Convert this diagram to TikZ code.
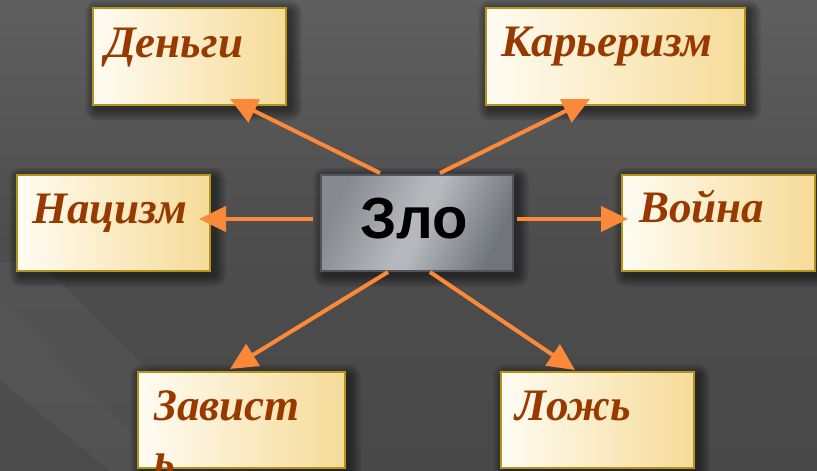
\documentclass[tikz,border=0pt]{standalone}
\usepackage{fontspec}
\setmainfont{Liberation Serif}
\newfontfamily\zlofont{Liberation Sans}
\usetikzlibrary{arrows.meta}
\definecolor{bgtop}{HTML}{5F5F5F}
\definecolor{bgmid}{HTML}{4D4D4D}
\definecolor{bgbot}{HTML}{484848}
\definecolor{boxl}{HTML}{FFFCF3}
\definecolor{boxr}{HTML}{F6DB98}
\definecolor{boxborder}{HTML}{B4931C}
\definecolor{txtc}{HTML}{983A00}
\definecolor{arrowc}{HTML}{FA8A3A}
\definecolor{zlol}{HTML}{868A90}
\definecolor{zlom}{HTML}{B5B8BD}
\definecolor{zlor}{HTML}{70747B}
\definecolor{zloborder}{HTML}{50545B}
\pgfdeclarehorizontalshading{zloshade}{100bp}{color(0bp)=(zlol); color(25bp)=(zlol); color(48bp)=(zlom); color(52bp)=(zlom); color(75bp)=(zlor); color(100bp)=(zlor)}
\tikzset{
  ybox/.style={draw=boxborder, line width=2pt, left color=boxl, right color=boxr,
    anchor=north west, inner sep=0pt},
  zbox/.style={draw=zloborder, line width=1.5pt, shading=zloshade, shading angle=-25,
    anchor=north west, inner sep=0pt},
  lbl/.style={anchor=base west, inner sep=0pt, text=txtc,
    font=\fontsize{45}{52}\selectfont\bfseries\itshape},
  arr/.style={draw=arrowc, line width=4pt, -{Triangle[length=27pt,width=25pt]}}
}
\begin{document}
\begin{tikzpicture}[x=1pt,y=-1pt]
\useasboundingbox (0,0) rectangle (817,471);
\clip (0,0) rectangle (817,471);
% background
\shade[top color=bgtop, bottom color=bgmid] (0,0) rectangle (817,240);
\shade[top color=bgmid, bottom color=bgbot] (0,240) rectangle (817,471);
\fill[white, opacity=0.04] (0,262) -- (40,262) -- (250,471) -- (110,471) -- (0,380) -- cycle;
\fill[white, opacity=0.02] (0,300) -- (170,471) -- (0,471) -- cycle;
% soft shadows
\foreach \a/\b/\c/\d in {92/7/285/104, 485/7/744/104, 16/174/209/270, 320/174/512/270,
                         621/174/814/270, 137/371/344/467, 500/371/693/467}{
  \foreach \k in {1,...,12}{
    \fill[black, opacity=0.045, rounded corners=\k pt]
      (\a+5-\k,\b+5-\k) rectangle (\c+5+\k,\d+5+\k);
  }
}
% boxes
\node[ybox, minimum width=193pt, minimum height=97pt] (den) at (92,7) {};
\node[ybox, minimum width=259pt, minimum height=97pt] (kar) at (485,7) {};
\node[ybox, minimum width=193pt, minimum height=96pt] (nac) at (16,174) {};
\node[zbox, minimum width=192pt, minimum height=96pt] (zlo) at (320,174) {};
\node[ybox, minimum width=193pt, minimum height=96pt] (voi) at (621,174) {};
\node[ybox, minimum width=207pt, minimum height=96pt] (zav) at (137,371) {};
\node[ybox, minimum width=193pt, minimum height=96pt] (loz) at (500,371) {};
% labels
\node[lbl] (tden) at (105,57) {Деньги};
\node[lbl] (tkar) at (501,56) {Карьеризм};
\node[lbl] (tnac) at (32,223) {Нацизм};
\node[lbl] (tvoi) at (639,222) {Война};
\node[lbl] (tzav) at (154,420) {Завист};
\node[lbl] (tzav2) at (154,474) {ь};
\node[lbl] (tloz) at (515,420) {Ложь};
\node[anchor=base, inner sep=0pt, font=\fontsize{58}{62}\zlofont\bfseries] (tzlo) at (414,238) {Зло};
% connector end points
\coordinate (s1) at (380,173); \coordinate (e1) at (230,99);
\coordinate (s2) at (440,173); \coordinate (e2) at (590,99);
\coordinate (s3) at (313,219); \coordinate (e3) at (199,219);
\coordinate (s4) at (517,219); \coordinate (e4) at (628,219);
\coordinate (s5) at (388,272); \coordinate (e5) at (230,369);
\coordinate (s6) at (430,272); \coordinate (e6) at (575,370);
\draw[arr] (s1) -- (e1);
\draw[arr] (s2) -- (e2);
\draw[arr] (s3) -- (e3);
\draw[arr] (s4) -- (e4);
\draw[arr] (s5) -- (e5);
\draw[arr] (s6) -- (e6);
\end{tikzpicture}
\end{document}
